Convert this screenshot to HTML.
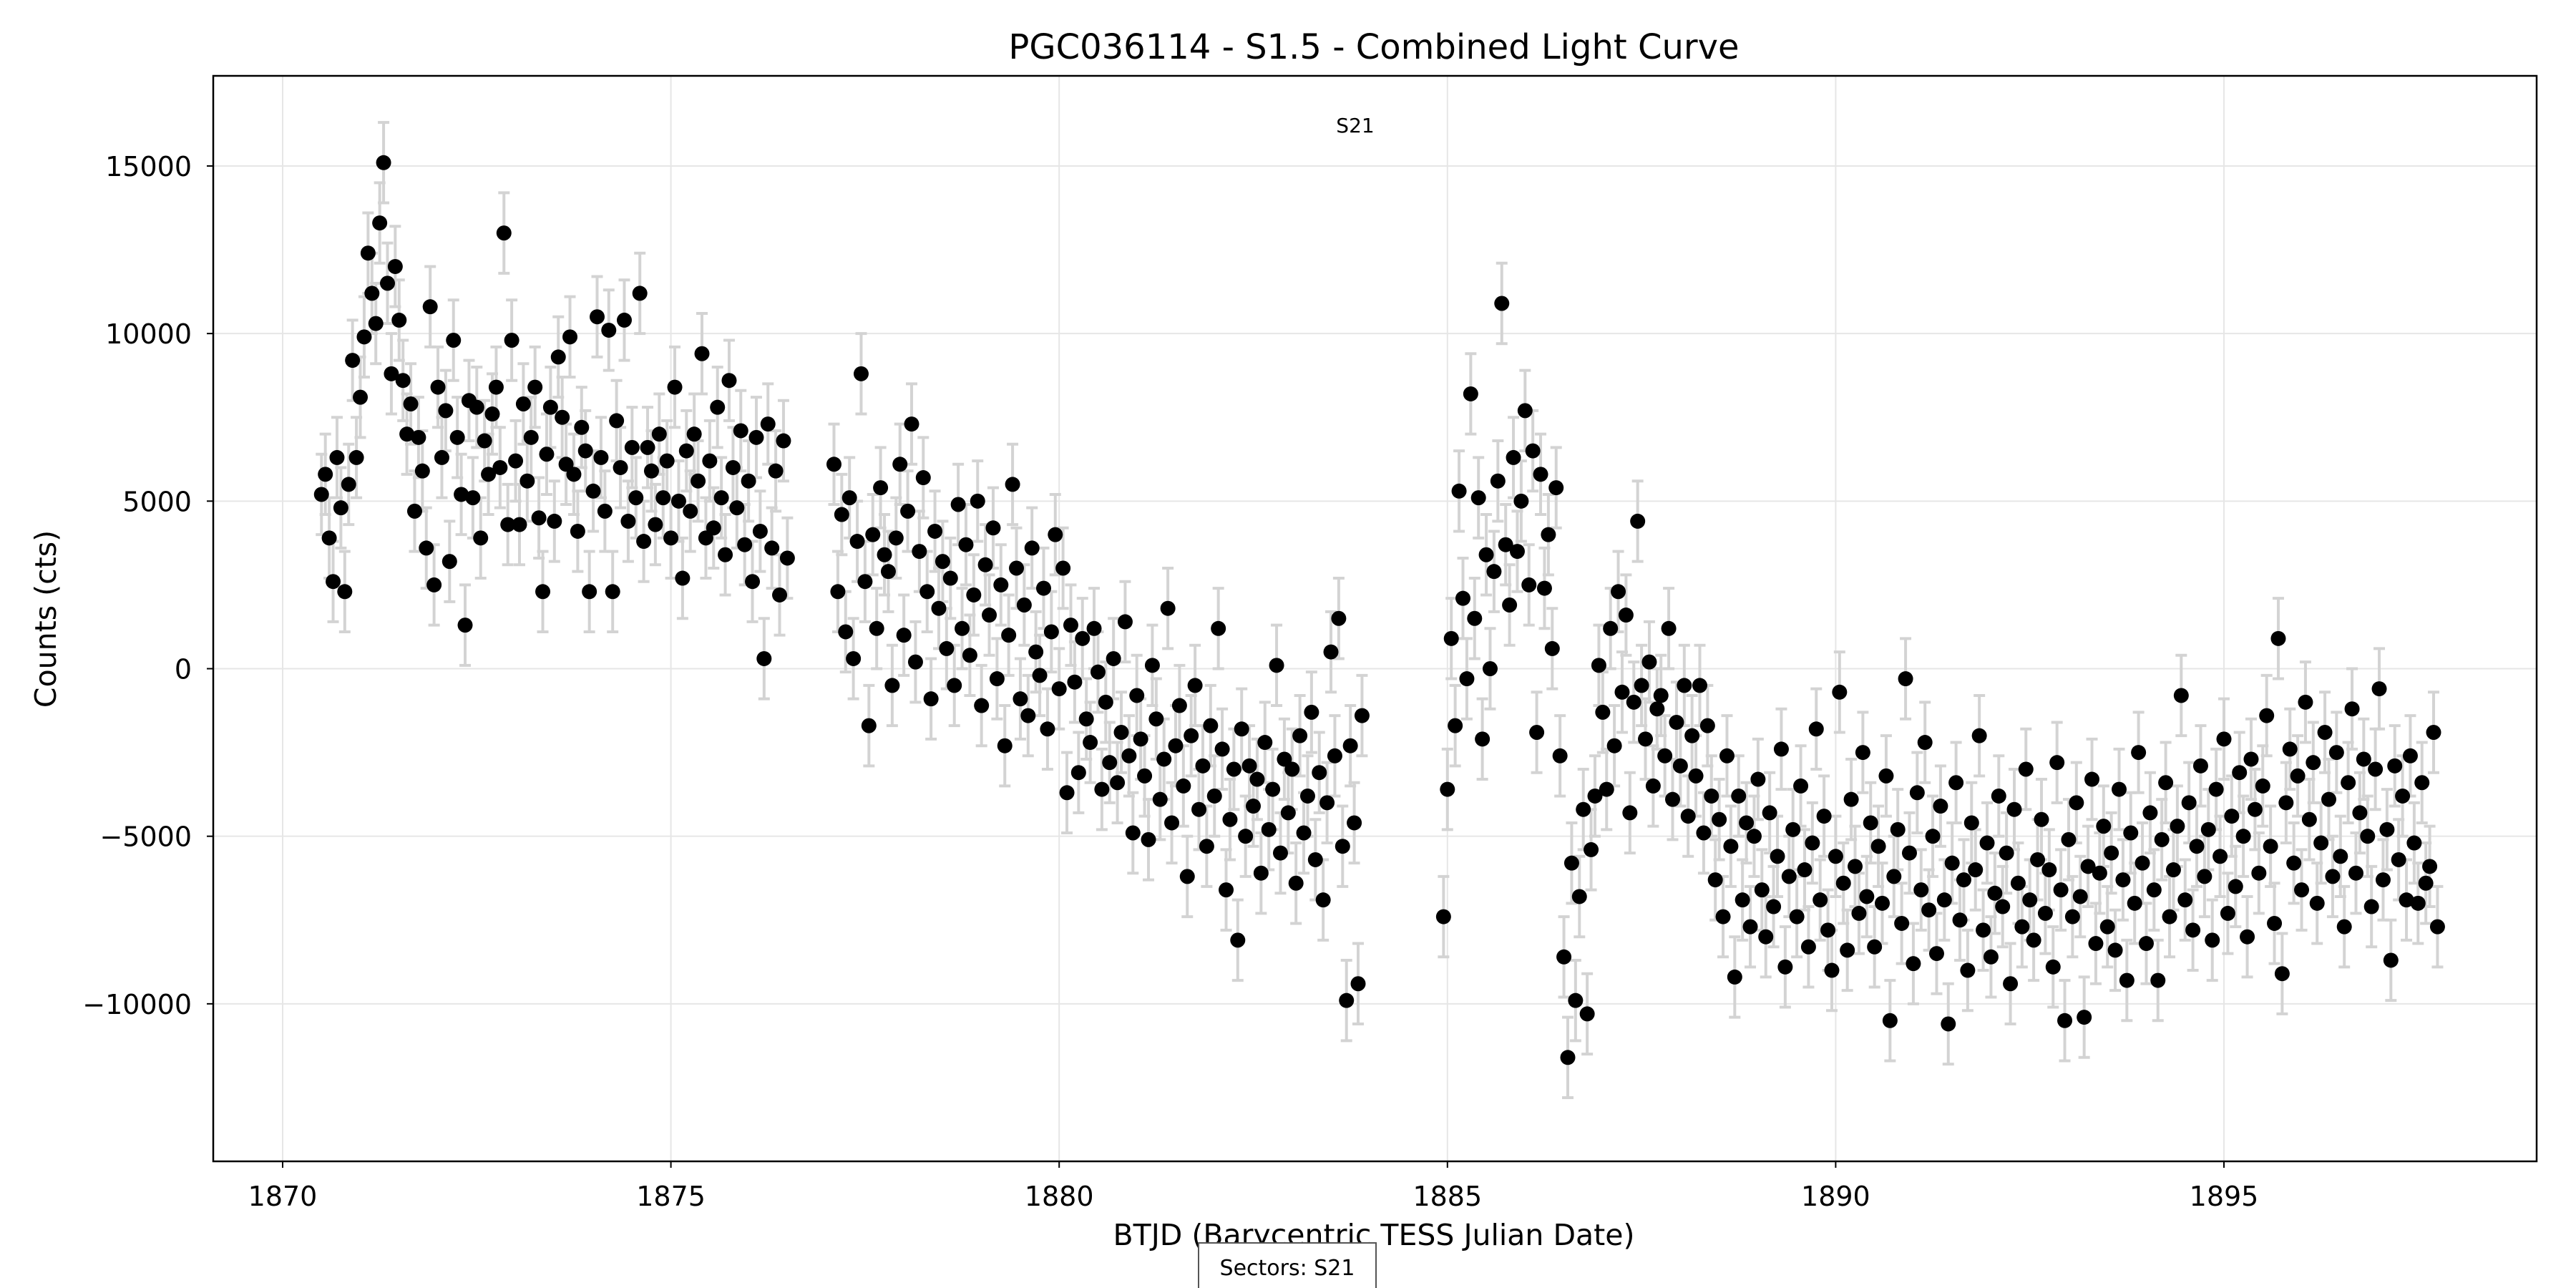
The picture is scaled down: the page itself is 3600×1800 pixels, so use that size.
<!DOCTYPE html>
<html><head><meta charset="utf-8"><style>
html,body{margin:0;padding:0;background:#fff;}
svg{display:block;font-family:"DejaVu Sans","Liberation Sans",sans-serif;}
</style></head><body>
<svg id="chart" width="3600" height="1800" viewBox="0 0 3600 1800" xmlns="http://www.w3.org/2000/svg">
<rect width="3600" height="1800" fill="#fff"/>
<text x="1920" y="82" font-size="48" text-anchor="middle">PGC036114 - S1.5 - Combined Light Curve</text>
<g id="grid"></g>
<g id="errs"></g>
<g id="pts"></g>
<rect x="298" y="106" width="3247" height="1517" fill="none" stroke="#000" stroke-width="2.5"/>
<g id="ticks"></g>
<text x="1894" y="185" font-size="28" text-anchor="middle">S21</text>
<text x="1920" y="1740" font-size="41" text-anchor="middle">BTJD (Barycentric TESS Julian Date)</text>
<text x="0" y="0" font-size="41" text-anchor="middle" transform="translate(78,865) rotate(-90)">Counts (cts)</text>
<g>
<rect x="1675" y="1737" width="248" height="70" fill="#fff" stroke="#555" stroke-width="2"/>
<text x="1799" y="1782" font-size="30" text-anchor="middle">Sectors: S21</text>
</g>
</svg>
<script>
const xTicks=[1870,1875,1880,1885,1890,1895];
const yTicks=[-10000,-5000,0,5000,10000,15000];
const yTickLabels=["\u221210000","\u22125000","0","5000","10000","15000"];
const segStarts=[1870.5,1877.1,1884.95];
const cadence=0.05;
const errK=1.2;
const seg1K=[5.2,5.8,3.9,2.6,6.3,4.8,2.3,5.5,9.2,6.3,8.1,
9.9,12.4,11.2,10.3,13.3,15.1,11.5,8.8,12.0,10.4,
8.6,7.0,7.9,4.7,6.9,5.9,3.6,10.8,2.5,8.4,
6.3,7.7,3.2,9.8,6.9,5.2,1.3,8.0,5.1,7.8,
3.9,6.8,5.8,7.6,8.4,6.0,13.0,4.3,9.8,6.2,
4.3,7.9,5.6,6.9,8.4,4.5,2.3,6.4,7.8,4.4,
9.3,7.5,6.1,9.9,5.8,4.1,7.2,6.5,2.3,5.3,
10.5,6.3,4.7,10.1,2.3,7.4,6.0,10.4,4.4,6.6,
5.1,11.2,3.8,6.6,5.9,4.3,7.0,5.1,6.2,3.9,
8.4,5.0,2.7,6.5,4.7,7.0,5.6,9.4,3.9,6.2,
4.2,7.8,5.1,3.4,8.6,6.0,4.8,7.1,3.7,5.6,
2.6,6.9,4.1,0.3,7.3,3.6,5.9,2.2,6.8,3.3];
const seg2K=[6.1,2.3,4.6,1.1,5.1,0.3,3.8,8.8,2.6,-1.7,
4.0,1.2,5.4,3.4,2.9,-0.5,3.9,6.1,1.0,4.7,
7.3,0.2,3.5,5.7,2.3,-0.9,4.1,1.8,3.2,0.6,
2.7,-0.5,4.9,1.2,3.7,0.4,2.2,5.0,-1.1,3.1,
1.6,4.2,-0.3,2.5,-2.3,1.0,5.5,3.0,-0.9,1.9,
-1.4,3.6,0.5,-0.2,2.4,-1.8,1.1,4.0,-0.6,3.0,
-3.7,1.3,-0.4,-3.1,0.9,-1.5,-2.2,1.2,-0.1,-3.6,
-1.0,-2.8,0.3,-3.4,-1.9,1.4,-2.6,-4.9,-0.8,-2.1,
-3.2,-5.1,0.1,-1.5,-3.9,-2.7,1.8,-4.6,-2.3,-1.1,
-3.5,-6.2,-2.0,-0.5,-4.2,-2.9,-5.3,-1.7,-3.8,1.2,
-2.4,-6.6,-4.5,-3.0,-8.1,-1.8,-5.0,-2.9,-4.1,-3.3,
-6.1,-2.2,-4.8,-3.6,0.1,-5.5,-2.7,-4.3,-3.0,-6.4,
-2.0,-4.9,-3.8,-1.3,-5.7,-3.1,-6.9,-4.0,0.5,-2.6,
1.5,-5.3,-9.9,-2.3,-4.6,-9.4,-1.4];
const seg3K=[-7.4,-3.6,0.9,-1.7,5.3,2.1,-0.3,8.2,1.5,5.1,
-2.1,3.4,0.0,2.9,5.6,10.9,3.7,1.9,6.3,3.5,
5.0,7.7,2.5,6.5,-1.9,5.8,2.4,4.0,0.6,5.4,
-2.6,-8.6,-11.6,-5.8,-9.9,-6.8,-4.2,-10.3,-5.4,-3.8,
0.1,-1.3,-3.6,1.2,-2.3,2.3,-0.7,1.6,-4.3,-1.0,
4.4,-0.5,-2.1,0.2,-3.5,-1.2,-0.8,-2.6,1.2,-3.9,
-1.6,-2.9,-0.5,-4.4,-2.0,-3.2,-0.5,-4.9,-1.7,-3.8,
-6.3,-4.5,-7.4,-2.6,-5.3,-9.2,-3.8,-6.9,-4.6,-7.7,
-5.0,-3.3,-6.6,-8.0,-4.3,-7.1,-5.6,-2.4,-8.9,-6.2,
-4.8,-7.4,-3.5,-6.0,-8.3,-5.2,-1.8,-6.9,-4.4,-7.8,
-9.0,-5.6,-0.7,-6.4,-8.4,-3.9,-5.9,-7.3,-2.5,-6.8,
-4.6,-8.3,-5.3,-7.0,-3.2,-10.5,-6.2,-4.8,-7.6,-0.3,
-5.5,-8.8,-3.7,-6.6,-2.2,-7.2,-5.0,-8.5,-4.1,-6.9,
-10.6,-5.8,-3.4,-7.5,-6.3,-9.0,-4.6,-6.0,-2.0,-7.8,
-5.2,-8.6,-6.7,-3.8,-7.1,-5.5,-9.4,-4.2,-6.4,-7.7,
-3.0,-6.9,-8.1,-5.7,-4.5,-7.3,-6.0,-8.9,-2.8,-6.6,
-10.5,-5.1,-7.4,-4.0,-6.8,-10.4,-5.9,-3.3,-8.2,-6.1,
-4.7,-7.7,-5.5,-8.4,-3.6,-6.3,-9.3,-4.9,-7.0,-2.5,
-5.8,-8.2,-4.3,-6.6,-9.3,-5.1,-3.4,-7.4,-6.0,-4.7,
-0.8,-6.9,-4.0,-7.8,-5.3,-2.9,-6.2,-4.8,-8.1,-3.6,
-5.6,-2.1,-7.3,-4.4,-6.5,-3.1,-5.0,-8.0,-2.7,-4.2,
-6.1,-3.5,-1.4,-5.3,-7.6,0.9,-9.1,-4.0,-2.4,-5.8,
-3.2,-6.6,-1.0,-4.5,-2.8,-7.0,-5.2,-1.9,-3.9,-6.2,
-2.5,-5.6,-7.7,-3.4,-1.2,-6.1,-4.3,-2.7,-5.0,-7.1,
-3.0,-0.6,-6.3,-4.8,-8.7,-2.9,-5.7,-3.8,-6.9,-2.6,
-5.2,-7.0,-3.4,-6.4,-5.9,-1.9,-7.7];

const X0=298,X1=3545,Y0=106,Y1=1623;
function xs(t){return 395+(t-1870)*108.52;}
function ys(v){return 934.5-v*0.046836;}
const NS="http://www.w3.org/2000/svg";
function mk(tag,attrs,parent){const e=document.createElementNS(NS,tag);for(const k in attrs)e.setAttribute(k,attrs[k]);parent.appendChild(e);return e;}
const grid=document.getElementById('grid'),ticks=document.getElementById('ticks');
xTicks.forEach(t=>{const x=xs(t);
 const g=mk('line',{x1:x,x2:x,y1:Y0,y2:Y1,stroke:'#e6e6e6','stroke-width':2},grid);
 
 
 mk('line',{x1:x,x2:x,y1:Y1,y2:Y1+9,stroke:'#000','stroke-width':2},ticks);
 const l=mk('text',{x:x,y:Y1+62,'font-size':38,'text-anchor':'middle'},ticks);l.textContent=t;
 
 
});
yTicks.forEach((v,i)=>{const y=ys(v);
 const g=mk('line',{x1:X0,x2:X1,y1:y,y2:y,stroke:'#e6e6e6','stroke-width':2},grid);
 
 
 mk('line',{x1:X0-9,x2:X0,y1:y,y2:y,stroke:'#000','stroke-width':2},ticks);
 const l=mk('text',{x:X0-30,y:y+14,'font-size':38,'text-anchor':'end'},ticks);l.textContent=yTickLabels[i];
 
 
});
const errs=document.getElementById('errs'),pts=document.getElementById('pts');
[seg1K,seg2K,seg3K].forEach((seg,si)=>{
 seg.forEach((vk,i)=>{
  const t=segStarts[si]+i*cadence, v=vk*1000;
  const x=xs(t),y=ys(v),yt=ys(v+errK*1000),yb=ys(v-errK*1000);
  const e=mk('path',{d:`M${x},${yt}V${yb}M${x-8},${yt}H${x+8}M${x-8},${yb}H${x+8}`,stroke:'#d3d3d3','stroke-width':4,fill:'none'},errs);
  
  
  const c=mk('circle',{cx:x,cy:y,r:10.5,fill:'#000'},pts);
  
  
 });
});
</script>
</body></html>
